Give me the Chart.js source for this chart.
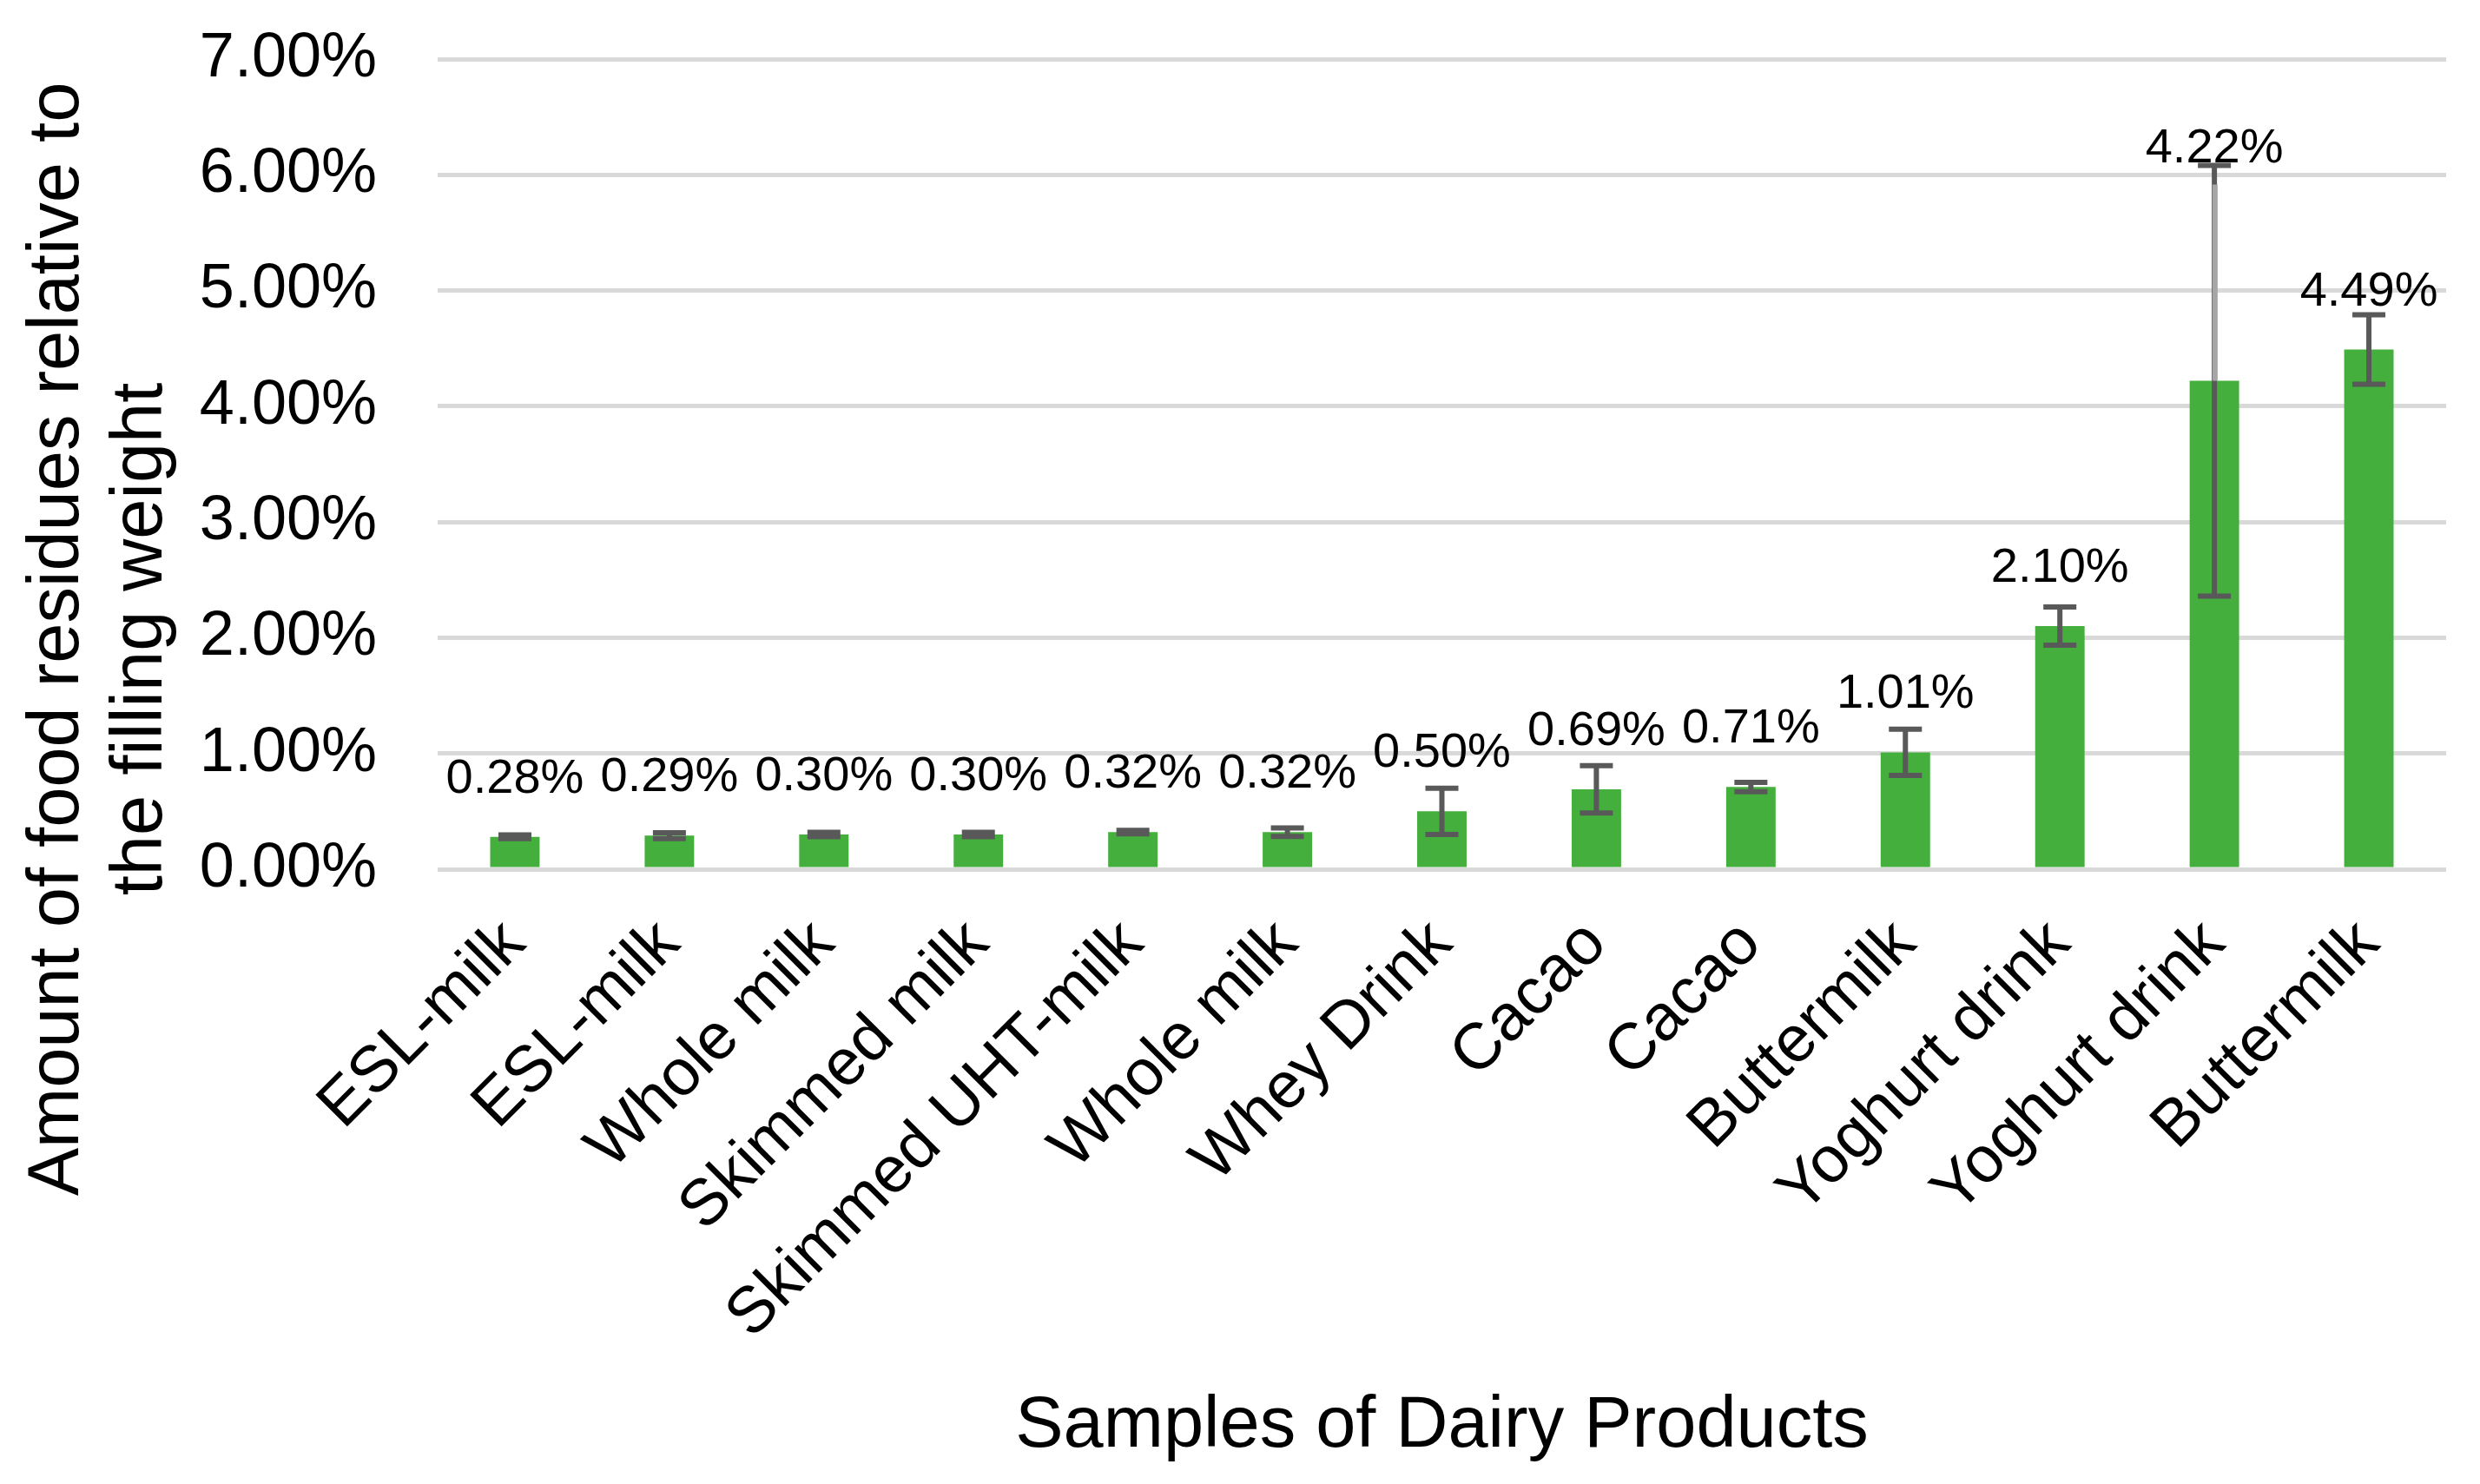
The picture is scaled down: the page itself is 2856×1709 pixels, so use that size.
<!DOCTYPE html>
<html>
<head>
<meta charset="utf-8">
<script src="https://cdn.jsdelivr.net/npm/chart.js@4/dist/chart.umd.min.js"></script>
<style>
  html, body { margin: 0; padding: 0; background: #ffffff; }
  #wrap { width: 2856px; height: 1709px; }
</style>
</head>
<body>
<div id="wrap"><canvas id="c" width="2856" height="1709"></canvas></div>
<script>
// ---- data ----
const categories = ['ESL-milk', 'ESL-milk', 'Whole milk', 'Skimmed milk', 'Skimmed UHT-milk', 'Whole milk', 'Whey Drink', 'Cacao', 'Cacao', 'Buttermilk', 'Yoghurt drink', 'Yoghurt drink', 'Buttermilk'];
const values = [0.28, 0.29, 0.30, 0.30, 0.32, 0.32, 0.50, 0.69, 0.71, 1.01, 2.10, 4.22, 4.49];
const errors = [0.016, 0.026, 0.018, 0.018, 0.015, 0.036, 0.20, 0.205, 0.041, 0.20, 0.165, 1.86, 0.30];
const labelAboveError = [false, false, false, false, false, false, false, false, false, false, false, true, false];
const yTickValues = [0, 1, 2, 3, 4, 5, 6, 7];
const yTitle = ['Amount of food residues relative to', 'the filling weight'];
const xTitle = 'Samples of Dairy Products';

const FONT = '"Liberation Sans", Arial, sans-serif';
const BAR_COLOR = '#44AF3C';
const ERR_COLOR = '#595959';
const ERR_LIGHT = '#a6a6a6';

const errorBarPlugin = {
  id: 'errorBars',
  afterDatasetsDraw(chart) {
    const ctx = chart.ctx;
    const y = chart.scales.y;
    const meta = chart.getDatasetMeta(0);
    ctx.save();
    ctx.lineWidth = 6;
    ctx.lineCap = 'butt';
    meta.data.forEach((bar, i) => {
      const x = bar.x;
      const yTop = y.getPixelForValue(values[i] + errors[i]);
      const yBot = y.getPixelForValue(values[i] - errors[i]);
      const half = 19;
      ctx.strokeStyle = ERR_COLOR;
      ctx.beginPath();
      ctx.moveTo(x, yTop); ctx.lineTo(x, yBot);
      ctx.moveTo(x - half, yTop); ctx.lineTo(x + half, yTop);
      ctx.moveTo(x - half, yBot); ctx.lineTo(x + half, yBot);
      ctx.stroke();
      if (labelAboveError[i]) {
        ctx.strokeStyle = ERR_LIGHT;
        ctx.beginPath();
        ctx.moveTo(x + 0.7, bar.y);
        ctx.lineTo(x + 0.7, yTop + 22);
        ctx.stroke();
      }
    });
    ctx.restore();
  },
  afterDraw(chart) {
    const ctx = chart.ctx;
    const y = chart.scales.y;
    const area = chart.chartArea;
    const meta = chart.getDatasetMeta(0);
    ctx.save();
    // data labels
    ctx.font = '56px ' + FONT;
    ctx.fillStyle = '#000000';
    ctx.textAlign = 'center';
    ctx.textBaseline = 'alphabetic';
    meta.data.forEach((bar, i) => {
      const base = labelAboveError[i] ? y.getPixelForValue(values[i] + errors[i]) - 4 : bar.y - 51;
      ctx.fillText(values[i].toFixed(2) + '%', bar.x, base);
    });
    // y axis title (two lines, rotated)
    ctx.font = '83px ' + FONT;
    ctx.textAlign = 'center';
    ctx.textBaseline = 'alphabetic';
    const yCenter = 736;
    const baselines = [90, 186];
    yTitle.forEach((line, k) => {
      ctx.save();
      ctx.translate(baselines[k], yCenter);
      ctx.rotate(-Math.PI / 2);
      ctx.fillText(line, 0, 0);
      ctx.restore();
    });
    // x axis title
    ctx.fillText(xTitle, (area.left + area.right) / 2, 1666);
    ctx.restore();
  }
};

new Chart(document.getElementById('c'), {
  type: 'bar',
  data: {
    labels: categories,
    datasets: [{
      data: values,
      backgroundColor: BAR_COLOR,
      borderWidth: 0,
      barPercentage: 0.32,
      categoryPercentage: 1.0
    }]
  },
  options: {
    responsive: false,
    devicePixelRatio: 1,
    animation: false,
    layout: { padding: { left: 14, right: 39, top: 68, bottom: 0 } },
    plugins: {
      legend: { display: false },
      tooltip: { enabled: false }
    },
    scales: {
      x: {
        grid: { display: false, drawTicks: false },
        border: { display: false },
        ticks: {
          color: '#000000',
          font: { family: FONT, size: 75 },
          minRotation: 45,
          maxRotation: 45,
          autoSkip: false,
          padding: 42
        },
        title: { display: false },
        afterFit(s) { s.height = 708; s.paddingLeft = 0; s.paddingRight = 0; }
      },
      y: {
        min: 0,
        max: 7,
        afterBuildTicks(s) { s.ticks = yTickValues.map(v => ({ value: v })); },
        grid: { color: '#d9d9d9', lineWidth: 5, drawTicks: false },
        border: { display: false },
        ticks: {
          color: '#000000',
          font: { family: FONT, size: 72 },
          padding: 70,
          callback: v => Number(v).toFixed(2) + '%'
        },
        title: { display: false },
        afterFit(s) { s.width = 490; s.paddingTop = 0; s.paddingBottom = 0; }
      }
    }
  },
  plugins: [errorBarPlugin]
});
</script>
</body>
</html>
